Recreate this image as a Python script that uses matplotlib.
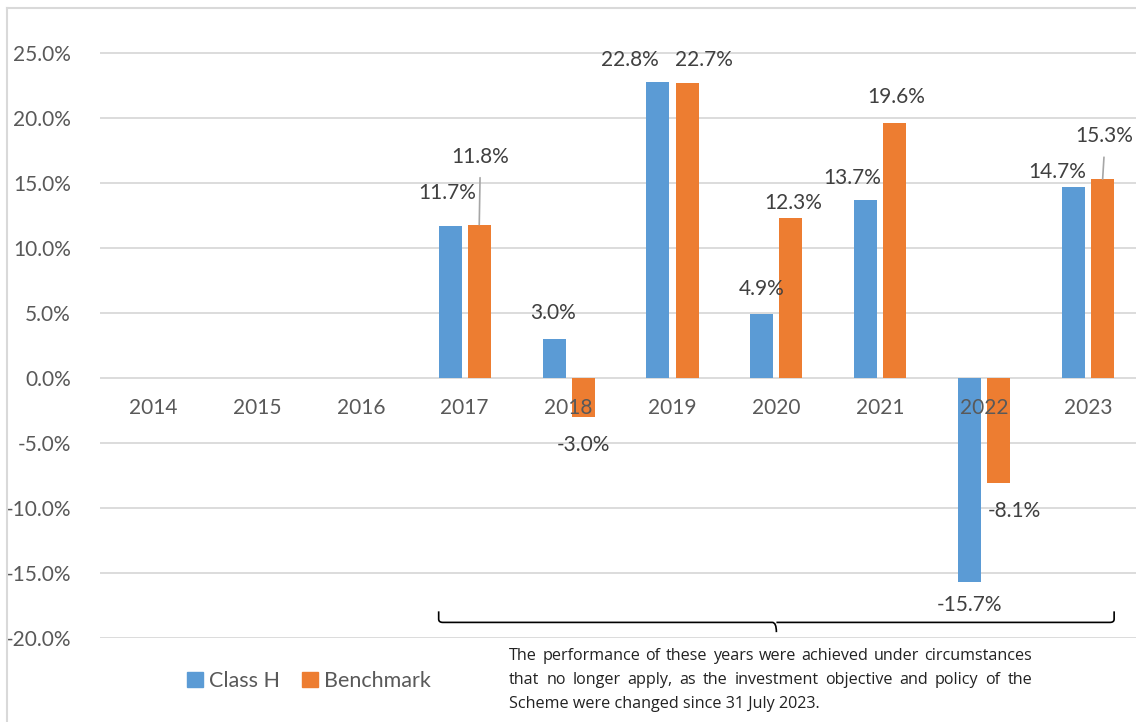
import numpy as np
import matplotlib
matplotlib.use('Agg')
import matplotlib.pyplot as plt
from matplotlib.lines import Line2D
from matplotlib.patches import Patch, PathPatch
from matplotlib.path import Path
from matplotlib.ticker import FuncFormatter

# data
years = ['2014', '2015', '2016', '2017', '2018', '2019', '2020', '2021', '2022', '2023']
class_h = [np.nan, np.nan, np.nan, 11.7, 3.0, 22.8, 4.9, 13.7, -15.7, 14.7]
benchmark = [np.nan, np.nan, np.nan, 11.8, -3.0, 22.7, 12.3, 19.6, -8.1, 15.3]
series_names = ['Class H', 'Benchmark']
note_lines = [
    "The performance of these years were achieved under circumstances",
    "that no longer apply, as the investment objective and policy of the",
    "Scheme were changed since 31 July 2023.",
]

# styling
BLUE = '#5b9bd5'
ORANGE = '#ed7d31'
GRID = '#d9d9d9'
TICK_C = '#595959'
LABEL_C = '#404040'
FONT = 'Lato'
FS = 15

# label nudges (pixels) from the bar end, copied from the layout of the original
h_offsets = [None, None, None, (-3, 33), (-1, 26), (-28, 22), (0, 25), (-14, 22), (0, -23), (-16, 15)]
b_offsets = [None, None, None, (1, 68), (0, -28), (17, 23), (2, 15), (1, 26), (16, -28), (2, 43)]
leader = [False, False, False, True, False, False, False, False, False, True]

W, H = 1136, 722
fig = plt.figure(figsize=(W / 100, H / 100), dpi=100)
fig.patch.set_facecolor('white')

# plot area: 0% at y=378px, 5% per 65px, first category at x=153px, step ~103.9px
ax = fig.add_axes([100 / W, (H - 638) / H, 1 - 100 / W, (638 - 20.5) / H])
step = 103.9
ax.set_xlim(-53 / step, -53 / step + (W - 100) / step)
ax.set_ylim(-20, 27.5)

x = np.arange(len(years))
bw = 0.221
off = 0.14
ax.bar(x - off, class_h, bw, color=BLUE, zorder=2)
ax.bar(x + off, benchmark, bw, color=ORANGE, zorder=2)

ax.set_yticks(np.arange(-20, 26, 5))
ax.yaxis.set_major_formatter(FuncFormatter(lambda v, p: f'{v:.1f}%'))
ax.grid(axis='y', color=GRID, lw=1.3, zorder=0)
ax.set_axisbelow(True)
ax.tick_params(axis='y', length=0, pad=21, labelsize=FS, labelcolor=TICK_C)
ax.tick_params(axis='x', length=0, labelbottom=False)
for lbl in ax.get_yticklabels():
    lbl.set_fontfamily(FONT)
for s in ax.spines.values():
    s.set_visible(False)

# category labels sit on the zero line, drawn over the bars
for i, yr in enumerate(years):
    ax.annotate(yr, (i, 0), xytext=(0, -30), textcoords='offset pixels',
                ha='center', va='center', fontsize=FS, color=TICK_C,
                family=FONT, zorder=5)

# data labels
def put_labels(vals, offs, dx_bar, with_leader):
    for i, v in enumerate(vals):
        if np.isnan(v):
            continue
        dx, dy = offs[i]
        kw = {}
        if with_leader[i]:
            kw['arrowprops'] = dict(arrowstyle='-', color='#a6a6a6', lw=1.2,
                                    relpos=(0.5, 0), shrinkA=6, shrinkB=0)
        ax.annotate(f'{v:.1f}%', (i + dx_bar, v), xytext=(dx, dy),
                    textcoords='offset pixels', ha='center', va='center',
                    fontsize=FS, color=LABEL_C, family=FONT, zorder=6,
                    annotation_clip=False, **kw)

put_labels(class_h, h_offsets, -off, [False] * len(years))
put_labels(benchmark, b_offsets, off, leader)

# brace under 2017-2023
x0, x1 = 3 - off - bw / 2, 9 + off + bw / 2
xm = (x0 + x1) / 2
yb, ye, yt = -18.8, -17.95, -19.55
r = 0.04
verts = [(x0, ye), (x0, yb + 0.25), (x0, yb), (x0 + r, yb),
         (xm - r, yb), (xm, yb), (xm, yt),
         (xm, yb), (xm + r, yb),
         (x1 - r, yb), (x1, yb), (x1, yb + 0.25), (x1, ye)]
codes = [Path.MOVETO, Path.LINETO, Path.CURVE3, Path.CURVE3,
         Path.LINETO, Path.CURVE3, Path.CURVE3,
         Path.MOVETO, Path.LINETO,
         Path.LINETO, Path.CURVE3, Path.CURVE3, Path.LINETO]
ax.add_patch(PathPatch(Path(verts, codes), fill=False, ec='black', lw=1.2,
                       clip_on=False, zorder=4))

# legend
handles = [Patch(color=BLUE), Patch(color=ORANGE)]
leg = fig.legend(handles, series_names, loc='center', bbox_to_anchor=(309 / W, 1 - 681 / H),
                 ncol=2, frameon=False, handlelength=0.75, handleheight=0.75,
                 handletextpad=0.3, columnspacing=1.0,
                 prop={'family': FONT, 'size': 15.5})
for t in leg.get_texts():
    t.set_color(TICK_C)

# outer chart frame (only left and top edges are visible)
fig.add_artist(Line2D([7 / W, 7 / W], [0, 1 - 8 / H], color=GRID, lw=1.5))
fig.add_artist(Line2D([7 / W, 1], [1 - 8 / H, 1 - 8 / H], color=GRID, lw=1.5))

# footnote, justified like the original
renderer = fig.canvas.get_renderer()
left_px, right_px = 509, 1032
line_y = [656, 680, 704]
note_kw = dict(family='Open Sans', fontsize=11.6, color='#222222', va='center', ha='left')
for k, line in enumerate(note_lines):
    yf = 1 - line_y[k] / H
    words = line.split(' ')
    if k == len(note_lines) - 1:
        fig.text(left_px / W, yf, line, **note_kw)
        continue
    arts = [fig.text(0, yf, w_, **note_kw) for w_ in words]
    widths = [a.get_window_extent(renderer).width for a in arts]
    gap = (right_px - left_px - sum(widths)) / (len(words) - 1)
    cur = left_px
    for a, wd in zip(arts, widths):
        a.set_x(cur / W)
        cur += wd + gap

fig.savefig('out.png', dpi=100)
